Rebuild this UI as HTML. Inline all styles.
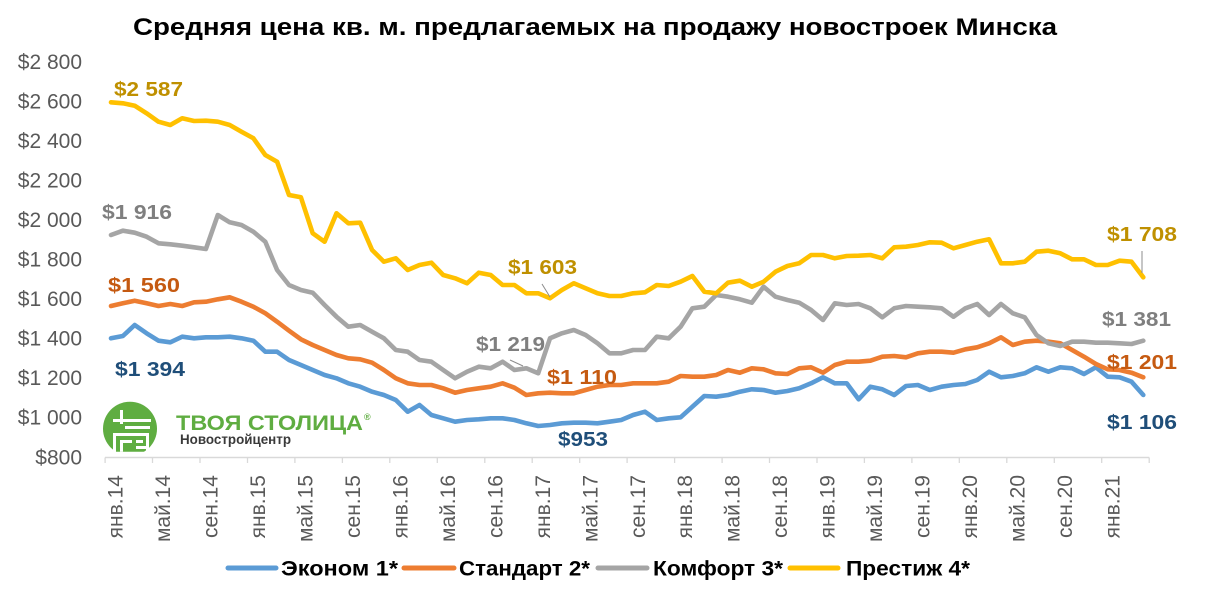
<!DOCTYPE html>
<html>
<head>
<meta charset="utf-8">
<style>
  html,body{margin:0;padding:0;background:#fff;}
  svg{display:block;}
  text{font-family:"Liberation Sans","Noto Sans CJK SC",sans-serif;}
</style>
</head>
<body>
<svg width="1206" height="601" viewBox="0 0 1206 601" xmlns="http://www.w3.org/2000/svg">
  <rect width="1206" height="601" fill="#fff"/>
  <!-- Title -->
  <text x="595" y="35" text-anchor="middle" font-size="24" font-weight="bold" fill="#000" textLength="924" lengthAdjust="spacingAndGlyphs">Средняя цена кв. м. предлагаемых на продажу новостроек Минска</text>

  <!-- Y axis labels -->
  <g font-size="21" fill="#595959" text-anchor="end">
    <text x="82" y="69">$2 800</text>
    <text x="82" y="108.5">$2 600</text>
    <text x="82" y="148">$2 400</text>
    <text x="82" y="187.5">$2 200</text>
    <text x="82" y="227">$2 000</text>
    <text x="82" y="266.5">$1 800</text>
    <text x="82" y="306">$1 600</text>
    <text x="82" y="345.5">$1 400</text>
    <text x="82" y="385">$1 200</text>
    <text x="82" y="424.5">$1 000</text>
    <text x="82" y="464.5">$800</text>
  </g>

  <!-- X axis -->
  <line x1="105" y1="457.5" x2="1149.2" y2="457.5" stroke="#D9D9D9" stroke-width="1.5"/>
  <g stroke="#D9D9D9" stroke-width="1.3">
    <line x1="105.1" y1="457.5" x2="105.1" y2="463"/>
    <line x1="152.5" y1="457.5" x2="152.5" y2="463"/>
    <line x1="200" y1="457.5" x2="200" y2="463"/>
    <line x1="247.5" y1="457.5" x2="247.5" y2="463"/>
    <line x1="294.9" y1="457.5" x2="294.9" y2="463"/>
    <line x1="342.4" y1="457.5" x2="342.4" y2="463"/>
    <line x1="389.8" y1="457.5" x2="389.8" y2="463"/>
    <line x1="437.3" y1="457.5" x2="437.3" y2="463"/>
    <line x1="484.8" y1="457.5" x2="484.8" y2="463"/>
    <line x1="532.2" y1="457.5" x2="532.2" y2="463"/>
    <line x1="579.7" y1="457.5" x2="579.7" y2="463"/>
    <line x1="627.1" y1="457.5" x2="627.1" y2="463"/>
    <line x1="674.6" y1="457.5" x2="674.6" y2="463"/>
    <line x1="722.1" y1="457.5" x2="722.1" y2="463"/>
    <line x1="769.5" y1="457.5" x2="769.5" y2="463"/>
    <line x1="817" y1="457.5" x2="817" y2="463"/>
    <line x1="864.4" y1="457.5" x2="864.4" y2="463"/>
    <line x1="911.9" y1="457.5" x2="911.9" y2="463"/>
    <line x1="959.3" y1="457.5" x2="959.3" y2="463"/>
    <line x1="1006.8" y1="457.5" x2="1006.8" y2="463"/>
    <line x1="1054.3" y1="457.5" x2="1054.3" y2="463"/>
    <line x1="1101.7" y1="457.5" x2="1101.7" y2="463"/>
    <line x1="1149.2" y1="457.5" x2="1149.2" y2="463"/>
  </g>

  <!-- X axis labels -->
  <g font-size="21" fill="#595959" text-anchor="end">
    <text transform="translate(122.7,475) rotate(-90)">янв.14</text>
    <text transform="translate(170.2,475) rotate(-90)">май.14</text>
    <text transform="translate(217.6,475) rotate(-90)">сен.14</text>
    <text transform="translate(265.1,475) rotate(-90)">янв.15</text>
    <text transform="translate(312.5,475) rotate(-90)">май.15</text>
    <text transform="translate(360,475) rotate(-90)">сен.15</text>
    <text transform="translate(407.5,475) rotate(-90)">янв.16</text>
    <text transform="translate(454.9,475) rotate(-90)">май.16</text>
    <text transform="translate(502.4,475) rotate(-90)">сен.16</text>
    <text transform="translate(549.8,475) rotate(-90)">янв.17</text>
    <text transform="translate(597.3,475) rotate(-90)">май.17</text>
    <text transform="translate(644.8,475) rotate(-90)">сен.17</text>
    <text transform="translate(692.2,475) rotate(-90)">янв.18</text>
    <text transform="translate(739.7,475) rotate(-90)">май.18</text>
    <text transform="translate(787.1,475) rotate(-90)">сен.18</text>
    <text transform="translate(834.6,475) rotate(-90)">янв.19</text>
    <text transform="translate(882.1,475) rotate(-90)">май.19</text>
    <text transform="translate(929.5,475) rotate(-90)">сен.19</text>
    <text transform="translate(977,475) rotate(-90)">янв.20</text>
    <text transform="translate(1024.4,475) rotate(-90)">май.20</text>
    <text transform="translate(1071.9,475) rotate(-90)">сен.20</text>
    <text transform="translate(1119.4,475) rotate(-90)">янв.21</text>
  </g>

  <!-- Logo -->
  <defs>
    <clipPath id="lc"><rect x="95" y="395" width="70" height="56.7"/></clipPath>
  </defs>
  <g clip-path="url(#lc)">
    <circle cx="130" cy="428.7" r="27" fill="#5FAD41"/>
    <g fill="#fff">
      <rect x="113" y="419" width="38" height="3"/>
      <rect x="120" y="410" width="3" height="14"/>
      <rect x="125" y="426" width="25" height="3"/>
      <rect x="113" y="433" width="36" height="3"/>
      <rect x="113" y="433" width="3" height="19"/>
      <rect x="146" y="433" width="3" height="19"/>
      <rect x="120" y="440" width="12" height="3"/>
      <rect x="120" y="440" width="3" height="12"/>
      <rect x="136" y="440" width="7" height="3"/>
      <rect x="136" y="446" width="10" height="3"/>
    </g>
  </g>
  <text x="176" y="430" font-size="21" font-weight="bold" fill="#5FAD41" textLength="187" lengthAdjust="spacingAndGlyphs">ТВОЯ СТОЛИЦА</text>
  <text x="364" y="420" font-size="9" font-weight="bold" fill="#5FAD41">®</text>
  <text x="180" y="444" font-size="14" font-weight="bold" fill="#3a3a3a" textLength="111" lengthAdjust="spacingAndGlyphs">Новостройцентр</text>

  <!-- Series -->
  <g fill="none" stroke-width="4.6" stroke-linejoin="round" stroke-linecap="round">
    <polyline stroke="#5B9BD5" points="111,338.3 122.9,336 134.7,325 146.6,333.3 158.5,340.7 170.3,342.3 182.2,336.7 194.1,338.3 205.9,337.3 217.8,337.3 229.7,336.7 241.5,338.3 253.4,340.7 265.3,351.7 277.1,351.7 289,360 300.9,365 312.7,370 324.6,375 336.5,378.3 348.3,383.3 360.2,386.7 372.1,391.7 383.9,395 395.8,400 407.7,411.7 419.5,405 431.4,415 443.2,418.3 455.1,421.7 467,420 478.8,419.3 490.7,418.3 502.6,418.3 514.4,420 526.3,423.3 538.2,426 550,425 561.9,423.3 573.8,422.7 585.6,422.7 597.5,423.3 609.4,421.7 621.2,420 633.1,415 645,411.7 656.8,420 668.7,418.3 680.6,417.3 692.4,406.7 704.3,396 716.2,396.7 728,395 739.9,391.7 751.8,389.3 763.6,390 775.5,392.7 787.4,391 799.2,388.3 811.1,383.3 823,377.3 834.8,383.3 846.7,383.3 858.6,399.3 870.4,386.7 882.3,389.3 894.2,395 906,386 917.9,385 929.8,390 941.6,386.7 953.5,385 965.4,384 977.2,380 989.1,371.7 1001,377.3 1012.8,376 1024.7,373.3 1036.5,367.3 1048.4,371.7 1060.3,367.3 1072.1,368.3 1084,374 1095.9,367.3 1107.7,376.7 1119.6,377.3 1131.5,381.7 1143.3,395"/>
    <polyline stroke="#ED7D31" points="111,306 122.9,303.3 134.7,300.7 146.6,303.3 158.5,306 170.3,304 182.2,306 194.1,302.3 205.9,301.7 217.8,299.3 229.7,297.3 241.5,301.7 253.4,306.7 265.3,313.3 277.1,321.7 289,330.7 300.9,339.3 312.7,345 324.6,350 336.5,355 348.3,358.3 360.2,359.3 372.1,362.7 383.9,370 395.8,378.3 407.7,383.3 419.5,385 431.4,385 443.2,388.3 455.1,392.7 467,390 478.8,388.3 490.7,386.7 502.6,383.3 514.4,387.7 526.3,395 538.2,393.3 550,392.7 561.9,393.3 573.8,393.3 585.6,390 597.5,386.7 609.4,385 621.2,385 633.1,383.3 645,383.3 656.8,383.3 668.7,381.7 680.6,376 692.4,376.7 704.3,376.7 716.2,375 728,370 739.9,372.7 751.8,368.3 763.6,369.3 775.5,373.3 787.4,374 799.2,368.3 811.1,367.3 823,372.7 834.8,365 846.7,361.7 858.6,361.7 870.4,360.7 882.3,356.7 894.2,356 906,357.3 917.9,353.3 929.8,351.7 941.6,351.7 953.5,352.7 965.4,349.3 977.2,347.3 989.1,343.3 1001,337.3 1012.8,345 1024.7,341.7 1036.5,340.7 1048.4,341.7 1060.3,343.3 1072.1,350 1084,356.7 1095.9,364 1107.7,369.3 1119.6,370 1131.5,372.7 1143.3,377.3"/>
    <polyline stroke="#A5A5A5" points="111,235 122.9,230.7 134.7,232.7 146.6,236.7 158.5,243.3 170.3,244.3 182.2,245.7 194.1,247.3 205.9,249 217.8,215 229.7,222.3 241.5,225 253.4,231.7 265.3,241.7 277.1,270 289,285 300.9,290 312.7,292.7 324.6,305 336.5,316.7 348.3,326.7 360.2,325 372.1,331.7 383.9,338.3 395.8,350 407.7,351.7 419.5,360 431.4,361.7 443.2,370 455.1,378.3 467,371.7 478.8,366.7 490.7,368.3 502.6,361.7 514.4,370 526.3,368.3 538.2,373.3 550,338.3 561.9,333.3 573.8,330 585.6,335 597.5,343.3 609.4,353.3 621.2,353.3 633.1,350 645,350 656.8,336.7 668.7,338.3 680.6,326.7 692.4,308.3 704.3,306.7 716.2,295 728,296.7 739.9,299.3 751.8,302.7 763.6,286.7 775.5,296.7 787.4,300 799.2,302.7 811.1,310 823,320 834.8,303.3 846.7,305 858.6,304 870.4,308.3 882.3,317.3 894.2,308.3 906,306 917.9,306.7 929.8,307.3 941.6,308.3 953.5,316.7 965.4,308.3 977.2,304 989.1,315 1001,304 1012.8,313.3 1024.7,317.3 1036.5,335 1048.4,343.3 1060.3,346 1072.1,341.7 1084,341.7 1095.9,342.7 1107.7,342.7 1119.6,343.3 1131.5,344 1143.3,340.7"/>
    <polyline stroke="#FFC000" points="111,102.3 122.9,103.3 134.7,105.7 146.6,113.3 158.5,121.7 170.3,125 182.2,118.3 194.1,121 205.9,120.7 217.8,121.7 229.7,125 241.5,131.7 253.4,138.3 265.3,155 277.1,161.7 289,195 300.9,197.3 312.7,233.3 324.6,241.7 336.5,213.3 348.3,223.3 360.2,222.7 372.1,250 383.9,261.7 395.8,258.3 407.7,270 419.5,265 431.4,262.7 443.2,275 455.1,278.3 467,283.3 478.8,272.7 490.7,275 502.6,285 514.4,285 526.3,293.3 538.2,293.3 550,298.3 561.9,290 573.8,283.3 585.6,288.3 597.5,293.3 609.4,296 621.2,296 633.1,293.3 645,292.3 656.8,285 668.7,286 680.6,281.7 692.4,276 704.3,291.7 716.2,293.3 728,282.7 739.9,280.7 751.8,286.7 763.6,281.7 775.5,271.7 787.4,266 799.2,263.3 811.1,255 823,255 834.8,258.3 846.7,256 858.6,255.7 870.4,255 882.3,258.3 894.2,247.3 906,246.7 917.9,245 929.8,242.3 941.6,242.7 953.5,248.3 965.4,245 977.2,241.7 989.1,239.3 1001,263.3 1012.8,263.3 1024.7,261.7 1036.5,251.7 1048.4,250.7 1060.3,253.3 1072.1,259.3 1084,259.3 1095.9,265 1107.7,265 1119.6,260.7 1131.5,261.7 1143.3,277.3"/>
  </g>

  <!-- Leader lines -->
  <g stroke="#8C8C8C" stroke-width="1">
    <line x1="542" y1="284" x2="550" y2="297"/>
    <line x1="510" y1="360" x2="523" y2="366"/>
    <line x1="1142" y1="251" x2="1142" y2="273"/>
  </g>

  <!-- Data labels -->
  <g font-size="20" font-weight="bold">
    <text x="114" y="96" fill="#BF9000" textLength="69" lengthAdjust="spacingAndGlyphs">$2 587</text>
    <text x="102" y="219" fill="#7F7F7F" textLength="70" lengthAdjust="spacingAndGlyphs">$1 916</text>
    <text x="108" y="292" fill="#C55A11" textLength="72" lengthAdjust="spacingAndGlyphs">$1 560</text>
    <text x="115" y="376" fill="#1F4E79" textLength="70" lengthAdjust="spacingAndGlyphs">$1 394</text>
    <text x="508" y="274" fill="#BF9000" textLength="69" lengthAdjust="spacingAndGlyphs">$1 603</text>
    <text x="476" y="351" fill="#7F7F7F" textLength="69" lengthAdjust="spacingAndGlyphs">$1 219</text>
    <text x="547" y="384" fill="#C55A11" textLength="70" lengthAdjust="spacingAndGlyphs">$1 110</text>
    <text x="558" y="446" fill="#1F4E79" textLength="50" lengthAdjust="spacingAndGlyphs">$953</text>
    <text x="1107" y="241" fill="#BF9000" textLength="70" lengthAdjust="spacingAndGlyphs">$1 708</text>
    <text x="1102" y="326" fill="#7F7F7F" textLength="69" lengthAdjust="spacingAndGlyphs">$1 381</text>
    <text x="1107" y="369" fill="#C55A11" textLength="70" lengthAdjust="spacingAndGlyphs">$1 201</text>
    <text x="1107" y="429" fill="#1F4E79" textLength="70" lengthAdjust="spacingAndGlyphs">$1 106</text>
  </g>

  <!-- Legend -->
  <g stroke-width="5" stroke-linecap="round">
    <line x1="228" y1="568" x2="276" y2="568" stroke="#5B9BD5"/>
    <line x1="404" y1="568" x2="454" y2="568" stroke="#ED7D31"/>
    <line x1="598" y1="568" x2="647" y2="568" stroke="#A5A5A5"/>
    <line x1="790" y1="568" x2="838" y2="568" stroke="#FFC000"/>
  </g>
  <g font-size="21" font-weight="bold" fill="#000">
    <text x="281" y="575.5" textLength="117" lengthAdjust="spacingAndGlyphs">Эконом 1*</text>
    <text x="459" y="575.5" textLength="131" lengthAdjust="spacingAndGlyphs">Стандарт 2*</text>
    <text x="653" y="575.5" textLength="130" lengthAdjust="spacingAndGlyphs">Комфорт 3*</text>
    <text x="846" y="575.5" textLength="124" lengthAdjust="spacingAndGlyphs">Престиж 4*</text>
  </g>
</svg>
</body>
</html>
